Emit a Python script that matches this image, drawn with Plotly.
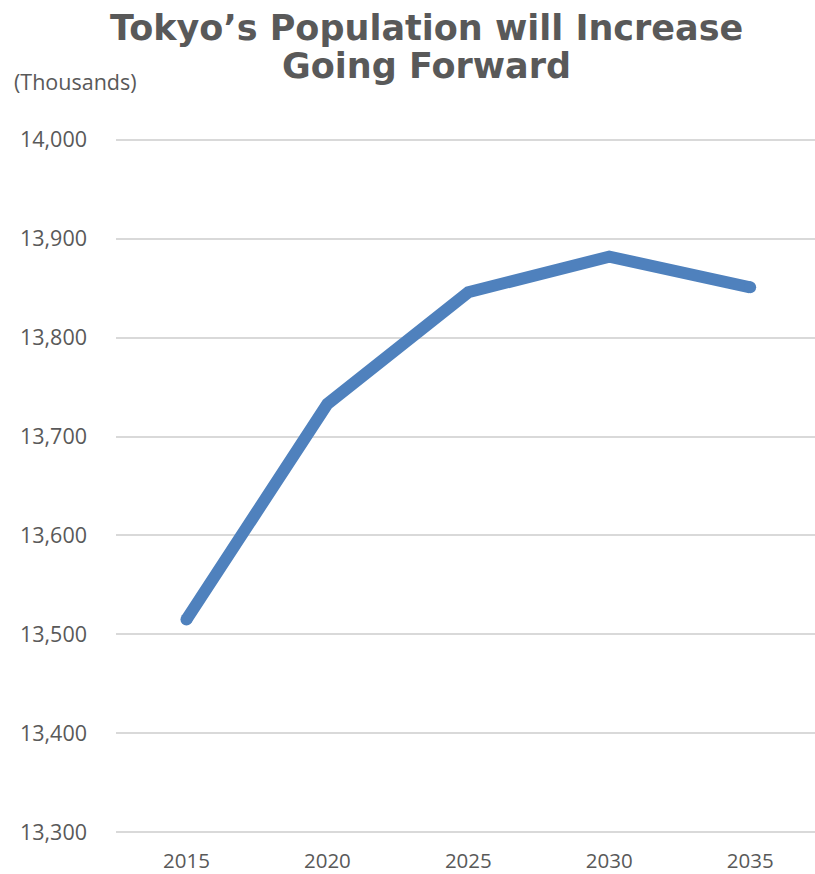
import plotly.graph_objects as go

# Tokyo population projection (thousands)
years = ["2015", "2020", "2025", "2030", "2035"]
population = [13515, 13733, 13846, 13882, 13851]
y_ticks = [13300, 13400, 13500, 13600, 13700, 13800, 13900, 14000]

LINE_COLOR = "#4F81BD"
TEXT_COLOR = "#595959"
TITLE_LINES = ["Tokyo’s Population will Increase", "Going Forward"]

# plot area geometry (pixels)
M_LEFT, M_TOP, M_BOTTOM = 116, 136, 38
PLOT_W = 815 - M_LEFT
PLOT_H = 874 - M_TOP - M_BOTTOM

fig = go.Figure()
fig.add_trace(go.Scatter(
    x=list(range(len(years))),
    y=population,
    mode="lines",
    line=dict(color=LINE_COLOR, width=12),
    hoverinfo="skip",
    cliponaxis=False,
))
# rounded end caps
fig.add_trace(go.Scatter(
    x=[0, len(years) - 1],
    y=[population[0], population[-1]],
    mode="markers",
    marker=dict(color=LINE_COLOR, size=12, line=dict(width=0)),
    hoverinfo="skip",
    cliponaxis=False,
))

title_font = dict(family="DejaVu Sans, sans-serif", size=35, color=TEXT_COLOR, weight="bold")
title_annotations = [
    dict(text=line, xref="paper", yref="paper", x=(426 - M_LEFT) / PLOT_W,
         y=1 + (M_TOP - ypx) / PLOT_H, xanchor="center", yanchor="middle",
         showarrow=False, font=title_font)
    for line, ypx in zip(TITLE_LINES, [28, 66])
]

fig.update_layout(
    width=815, height=874,
    margin=dict(l=M_LEFT, r=0, t=M_TOP, b=M_BOTTOM, autoexpand=False),
    paper_bgcolor="white", plot_bgcolor="white",
    showlegend=False,
    font=dict(family="Open Sans, sans-serif", color=TEXT_COLOR, size=21.5),
    xaxis=dict(
        range=[-0.5, 4.46], automargin=False,
        tickmode="array", tickvals=list(range(len(years))), ticktext=years,
        tickfont=dict(size=20.5),
        showgrid=False, zeroline=False, showline=False, ticks="",
        ticklabelstandoff=10,
    ),
    yaxis=dict(
        range=[13296, 14004], automargin=False,
        tickmode="array", tickvals=y_ticks,
        ticktext=[f"{v:,}" for v in y_ticks],
        showgrid=True, gridcolor="#D9D9D9", gridwidth=1.5,
        zeroline=False, showline=False, ticks="",
        ticklabelstandoff=28,
    ),
    annotations=title_annotations + [dict(
        text="(Thousands)", xref="paper", yref="paper",
        x=(12 - M_LEFT) / PLOT_W, y=1 + (M_TOP - 81) / PLOT_H,
        xanchor="left", yanchor="middle",
        showarrow=False, font=dict(size=21.5, color=TEXT_COLOR),
    )],
)

fig.write_html("out.html")
